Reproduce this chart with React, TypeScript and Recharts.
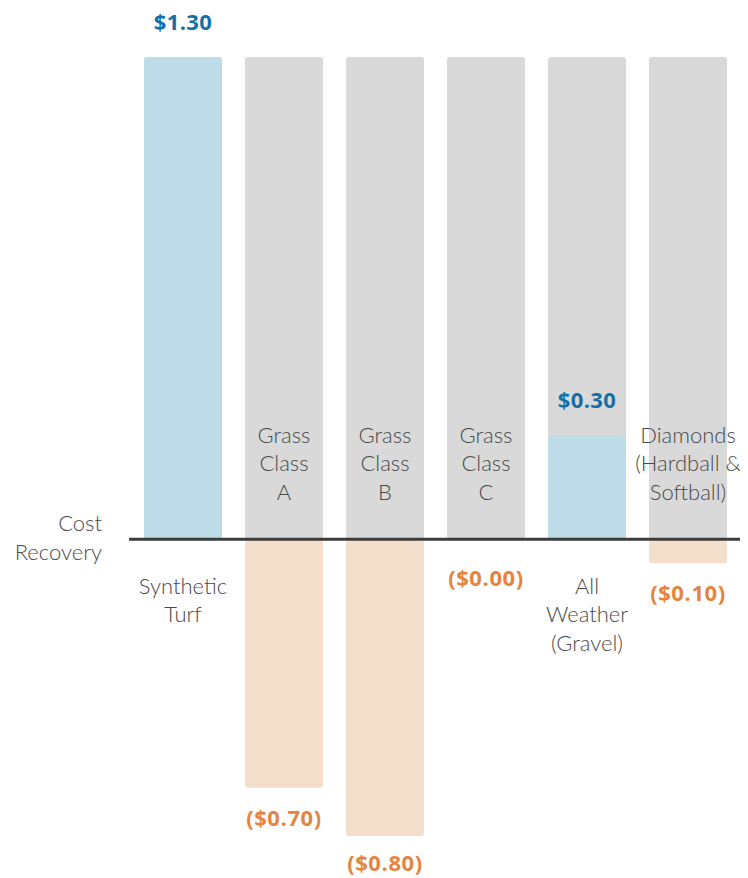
import React from "react";
import { BarChart, Bar, XAxis, YAxis, Cell, LabelList, ReferenceLine } from "recharts";

const categories = ["Synthetic Turf", "Grass Class A", "Grass Class B", "Grass Class C", "All Weather (Gravel)", "Diamonds (Hardball & Softball)"];
const nameLines = [
  ["Synthetic", "Turf"],
  ["Grass", "Class", "A"],
  ["Grass", "Class", "B"],
  ["Grass", "Class", "C"],
  ["All", "Weather", "(Gravel)"],
  ["Diamonds", "(Hardball &", "Softball)"],
];
const recoveryValues = [1.3, -0.67, -0.8, -0.002, 0.28, -0.065];
const valueLabels = ["$1.30", "($0.70)", "($0.80)", "($0.00)", "$0.30", "($0.10)"];
const fullScale = [1.3, 1.3, 1.3, 1.3, 1.3, 1.3];

const data = categories.map((c, i) => ({
  name: c,
  idx: i,
  value: recoveryValues[i],
  full: fullScale[i],
}));

const BLUE_BAR = "#BEDCE7";
const ORANGE_BAR = "#F3DFCC";
const GREY_BAR = "#D9D9D9";
const BLUE_TEXT = "#166FA7";
const ORANGE_TEXT = "#E5843F";
const NAME_TEXT = "#4A4A4A";

const CHART_H = 886;

const renderLabel = (p: any) => {
  const vb = p.viewBox && p.viewBox.width !== undefined ? p.viewBox : p;
  const x = Number(vb.x);
  const y = Number(vb.y);
  const w = Number(vb.width);
  const h = Number(vb.height);
  const idx = Number(p.value);
  const v = recoveryValues[idx];
  const top = Math.min(y, y + h);
  const bottom = Math.max(y, y + h);
  const cx = x + w / 2;
  const zeroY = v > 0 ? bottom : top;
  const lines = nameLines[idx];
  const lh = 28.5;
  const els: any[] = [];
  if (v > 0) {
    els.push(
      <text key="v" x={cx} y={top - 36} textAnchor="middle" dominantBaseline="central"
        fontFamily="'Open Sans', sans-serif" fontWeight={700} fontSize={22} letterSpacing={0.4} fill={BLUE_TEXT}>
        {valueLabels[idx]}
      </text>
    );
    lines.forEach((ln, k) => {
      els.push(
        <text key={"n" + k} x={cx} y={zeroY + 46 + k * lh} textAnchor="middle" dominantBaseline="central"
          fontFamily="Lato, sans-serif" fontWeight={300} fontSize={22} fill={NAME_TEXT}>
          {ln}
        </text>
      );
    });
  } else {
    // keep the label inside the visible page (page bottom is CHART_H - 8 in svg coords)
    const ly = Math.min(Math.max(bottom + 29, zeroY + 38), CHART_H - 8 - 16);
    els.push(
      <text key="v" x={cx} y={ly} textAnchor="middle" dominantBaseline="central"
        fontFamily="'Open Sans', sans-serif" fontWeight={700} fontSize={22} letterSpacing={0.6} fill={ORANGE_TEXT}>
        {valueLabels[idx]}
      </text>
    );
    const n = lines.length;
    lines.forEach((ln, k) => {
      els.push(
        <text key={"n" + k} x={cx} y={zeroY - 48 - (n - 1 - k) * lh} textAnchor="middle" dominantBaseline="central"
          fontFamily="Lato, sans-serif" fontWeight={300} fontSize={22} fill={NAME_TEXT}>
          {ln}
        </text>
      );
    });
  }
  return <g>{els}</g>;
};

const BaseLine = (p: any) => (
  <line x1={p.x1 - 3} x2={p.x2 + 5} y1={p.y1} y2={p.y2} stroke="#3C3C3C" strokeWidth={3} />
);

export default function App() {
  return (
    <div style={{ position: "relative", width: 740, height: CHART_H, marginTop: -8 }}>
      <BarChart
        width={740}
        height={CHART_H}
        data={data}
        margin={{ top: 57, right: 10, bottom: 13, left: 124 }}
        barSize={78}
      >
        <XAxis xAxisId="bg" dataKey="name" hide />
        <XAxis xAxisId="main" dataKey="name" hide />
        <YAxis domain={[-0.9, 1.3]} hide allowDataOverflow />
        <Bar xAxisId="bg" dataKey="full" fill={GREY_BAR} radius={3} isAnimationActive={false} />
        <Bar xAxisId="main" dataKey="value" radius={3} isAnimationActive={false}>
          {data.map((d, i) => (
            <Cell key={i} fill={d.value > 0 ? BLUE_BAR : ORANGE_BAR} />
          ))}
          <LabelList dataKey="idx" content={renderLabel} />
        </Bar>
        <ReferenceLine xAxisId="main" y={0} shape={BaseLine} />
      </BarChart>
      <div style={{ position: "absolute", left: 0, top: 508, width: 94, textAlign: "right",
        fontFamily: "Lato, sans-serif", fontWeight: 300, fontSize: 22, lineHeight: "29px", color: NAME_TEXT }}>
        Cost<br />Recovery
      </div>
    </div>
  );
}
